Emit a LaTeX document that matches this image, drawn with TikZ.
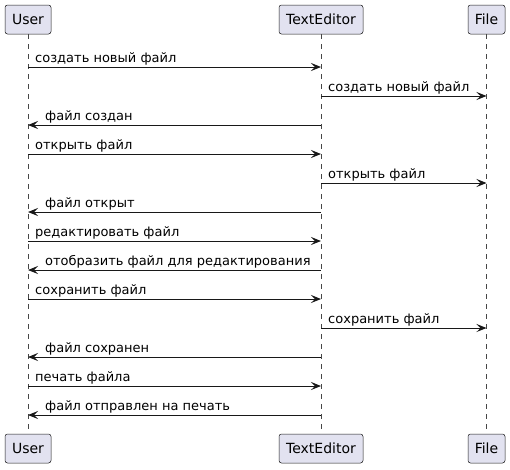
\documentclass[tikz,border=0pt]{standalone}
\usepackage{fontspec}
\setmainfont{DejaVu Sans}
\usetikzlibrary{arrows.meta}
\definecolor{boxfill}{HTML}{E2E2F0}
\definecolor{linecol}{HTML}{181818}
\begin{document}
\begin{tikzpicture}[x=1pt,y=-1pt,
 part/.style={draw=linecol, fill=boxfill, rounded corners=2.5pt, minimum height=29pt, inner sep=0pt, font=\fontsize{14}{16}\selectfont, line width=0.5pt},
 msg/.style={draw=linecol, line width=1pt, -{Stealth[length=10pt,width=8pt,inset=4pt]}},
 lbl/.style={font=\fontsize{13}{15}\selectfont, anchor=base west, inner sep=0pt, text=black},
 life/.style={draw=linecol!80, dash pattern=on 5pt off 5pt, line width=0.5pt}]
\useasboundingbox (0,0) rectangle (510,469);
\node[part, minimum width=46pt] (ut) at (28,19.5) {User};
\node[part, minimum width=84pt] (tt) at (321,19.5) {TextEditor};
\node[part, minimum width=37pt] (ft) at (486.5,19.5) {File};
\node[part, minimum width=46pt] (ub) at (28,448.5) {User};
\node[part, minimum width=84pt] (tb) at (321,448.5) {TextEditor};
\node[part, minimum width=37pt] (fb) at (486.5,448.5) {File};
\draw[life] (ut) -- (ub);
\draw[life] (tt) -- (tb);
\draw[life] (ft) -- (fb);
\foreach \i in {1,...,13} {
  \coordinate (U\i) at (28,{67+29*(\i-1)});
  \coordinate (T\i) at (321,{67+29*(\i-1)});
  \coordinate (F\i) at (486.5,{67+29*(\i-1)});
}
\draw[msg] (U1) -- (T1);
\path (U1) ++(7,-4.5) node[lbl] (l1) {создать новый файл};
\draw[msg] (T2) -- (F2);
\path (T2) ++(7,-4.5) node[lbl] (l2) {создать новый файл};
\draw[msg] (T3) -- (U3);
\path (U3) ++(17,-4.5) node[lbl] (l3) {файл создан};
\draw[msg] (U4) -- (T4);
\path (U4) ++(7,-4.5) node[lbl] (l4) {открыть файл};
\draw[msg] (T5) -- (F5);
\path (T5) ++(7,-4.5) node[lbl] (l5) {открыть файл};
\draw[msg] (T6) -- (U6);
\path (U6) ++(17,-4.5) node[lbl] (l6) {файл открыт};
\draw[msg] (U7) -- (T7);
\path (U7) ++(7,-4.5) node[lbl] (l7) {редактировать файл};
\draw[msg] (T8) -- (U8);
\path (U8) ++(17,-4.5) node[lbl] (l8) {отобразить файл для редактирования};
\draw[msg] (U9) -- (T9);
\path (U9) ++(7,-4.5) node[lbl] (l9) {сохранить файл};
\draw[msg] (T10) -- (F10);
\path (T10) ++(7,-4.5) node[lbl] (l10) {сохранить файл};
\draw[msg] (T11) -- (U11);
\path (U11) ++(17,-4.5) node[lbl] (l11) {файл сохранен};
\draw[msg] (U12) -- (T12);
\path (U12) ++(7,-4.5) node[lbl] (l12) {печать файла};
\draw[msg] (T13) -- (U13);
\path (U13) ++(17,-4.5) node[lbl] (l13) {файл отправлен на печать};
\end{tikzpicture}
\end{document}
